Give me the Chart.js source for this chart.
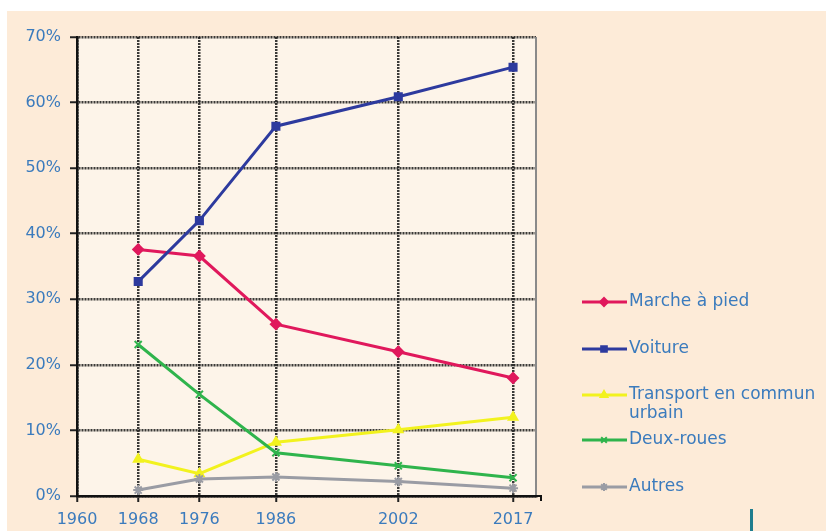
<!DOCTYPE html>
<html lang="fr">
<head>
  <meta charset="UTF-8">
  <title>Parts modales 1968-2017</title>
  <style>
    html, body { margin: 0; padding: 0; background: #fff; }
    #wrap { position: relative; width: 826px; height: 531px; overflow: hidden; }
    #fond { position: absolute; left: 7px; top: 11px; right: 0; bottom: 0; background: #fdebd8; }
    #chart { position: absolute; left: 0; top: 0; }
    #trait { position: absolute; left: 750px; top: 509px; width: 3px; height: 22px; background: #1f7d8e; }
  </style>
  <script src="https://cdn.jsdelivr.net/npm/chart.js"></script>
</head>
<body>
<div id="wrap">
  <div id="fond"></div>
  <canvas id="chart" width="826" height="531"></canvas>
  <div id="trait"></div>
</div>
<script>
  // données (en %)
  const annees = [1968, 1976, 1986, 2002, 2017];
  const xTicks = [1960, 1968, 1976, 1986, 2002, 2017];
  const yTicks = [0, 10, 20, 30, 40, 50, 60, 70];

  const marche    = [37.6, 36.6, 26.2, 22.0, 18.0];
  const voiture   = [32.7, 42.0, 56.4, 60.9, 65.4];
  const transport = [5.6, 3.4, 8.2, 10.1, 12.0];
  const deuxRoues = [23.1, 15.5, 6.6, 4.6, 2.8];
  const autres    = [0.9, 2.6, 2.9, 2.2, 1.2];

  const libelles = ['Marche à pied', 'Voiture', 'Transport en commun\nurbain', 'Deux-roues', 'Autres'];
  const couleurs = ['#e0185c', '#2d3a9e', '#f2f21e', '#2fb44c', '#9a9ca4'];
  const marqueurs = ['rectRot', 'rect', 'triangle', 'crossRot', 'star'];
  const series = [marche, voiture, transport, deuxRoues, autres];

  const bleuTexte = '#3b7bbd';
  const police = 'DejaVu Sans, Arial, sans-serif';

  const datasets = series.map((vals, i) => ({
    label: libelles[i],
    data: vals.map((v, k) => ({ x: annees[k], y: v })),
    borderColor: couleurs[i],
    backgroundColor: couleurs[i],
    borderWidth: 3,
    pointStyle: marqueurs[i],
    pointRadius: 5,
    pointBorderWidth: 2,
    tension: 0
  }));
  // voiture au-dessus
  datasets.reverse();

  // fond de la zone de tracé + bord droit
  const zonePlugin = {
    id: 'zone',
    beforeDraw(chart) {
      const { ctx, chartArea: a } = chart;
      ctx.save();
      ctx.fillStyle = '#fdf4e9';
      ctx.fillRect(a.left, a.top, a.right - a.left, a.bottom - a.top);
      ctx.restore();
    },
    afterDraw(chart) {
      const { ctx, chartArea: a } = chart;
      ctx.save();
      ctx.strokeStyle = '#8a8a8a';
      ctx.lineWidth = 2;
      ctx.beginPath();
      ctx.moveTo(a.right, a.top);
      ctx.lineTo(a.right, a.bottom);
      ctx.stroke();
      ctx.strokeStyle = '#111';
      ctx.lineWidth = 2;
      ctx.beginPath();
      ctx.moveTo(a.right - 2, a.bottom);
      ctx.lineTo(a.right + 5, a.bottom);
      ctx.lineTo(a.right + 5, a.bottom + 5);
      ctx.stroke();
      ctx.restore();
    }
  };

  // légende dessinée à la main (libellé sur deux lignes)
  const legendePlugin = {
    id: 'legende',
    afterDraw(chart) {
      const ctx = chart.ctx;
      const ys = [302, 349, 395, 440, 487];
      ctx.save();
      ctx.font = '17px ' + police;
      ctx.textBaseline = 'middle';
      libelles.forEach((lab, i) => {
        const y = ys[i];
        ctx.strokeStyle = couleurs[i];
        ctx.lineWidth = 3;
        ctx.beginPath();
        ctx.moveTo(582, y);
        ctx.lineTo(627, y);
        ctx.stroke();
        ctx.fillStyle = couleurs[i];
        ctx.lineWidth = 2;
        Chart.helpers.drawPoint(ctx, { pointStyle: marqueurs[i], radius: 4, borderWidth: 2, rotation: 0 }, 604, y);
        ctx.fillStyle = bleuTexte;
        lab.split('\n').forEach((l, j) => ctx.fillText(l, 629, y + j * 19));
      });
      ctx.restore();
    }
  };

  new Chart(document.getElementById('chart'), {
    type: 'line',
    data: { datasets },
    options: {
      responsive: false,
      animation: false,
      layout: { padding: { top: 37, right: 290, left: 0, bottom: 0 } },
      plugins: { legend: { display: false }, tooltip: { enabled: false } },
      scales: {
        x: {
          type: 'linear',
          min: 1960,
          max: 2020,
          afterBuildTicks: s => { s.ticks = xTicks.map(v => ({ value: v })); },
          afterFit: s => { s.height = 35; },
          ticks: {
            color: bleuTexte, font: { family: police, size: 16 }, padding: 8,
            maxRotation: 0, autoSkip: false, callback: v => String(v)
          },
          grid: { color: 'rgba(25,25,25,0.85)', lineWidth: 2.5, tickLength: 6, tickColor: '#222', tickWidth: 2 },
          border: { color: '#111', width: 2.5, dash: [2, 1] }
        },
        y: {
          min: 0,
          max: 70,
          afterBuildTicks: s => { s.ticks = yTicks.map(v => ({ value: v })); },
          afterFit: s => { s.width = 77; },
          ticks: { color: bleuTexte, font: { family: police, size: 16 }, padding: 9, callback: v => v + '%' },
          grid: { color: 'rgba(25,25,25,0.85)', lineWidth: 2.5, tickLength: 7, tickColor: '#222', tickWidth: 2 },
          border: { color: '#111', width: 2.5, dash: [2, 1] }
        }
      }
    },
    plugins: [zonePlugin, legendePlugin]
  });
</script>
</body>
</html>
